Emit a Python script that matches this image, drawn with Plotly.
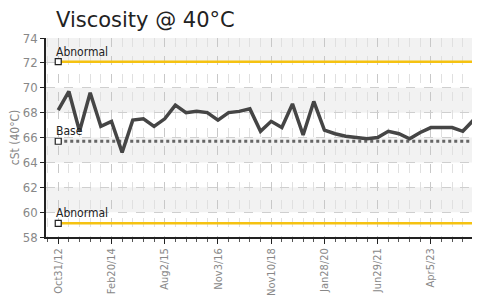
import plotly.graph_objects as go

# ---- data ----
tick_labels = ["Oct31/12", "Feb20/14", "Aug2/15", "Nov3/16", "Nov10/18",
               "Jan28/20", "Jun29/21", "Apr5/23"]
tick_index = [0, 5, 10, 15, 20, 25, 30, 35]
viscosity = [68.2, 69.7, 66.5, 69.6, 66.9, 67.3, 64.8, 67.4, 67.5, 66.9,
             67.5, 68.6, 68.0, 68.1, 68.0, 67.4, 68.0, 68.1, 68.3, 66.5,
             67.3, 66.8, 68.7, 66.2, 68.9, 66.6, 66.3, 66.1, 66.0, 65.9,
             66.0, 66.5, 66.3, 65.9, 66.4, 66.8, 66.8, 66.8, 66.5, 67.4]
abnormal_high = 72.1
base_value = 65.7
abnormal_low = 59.1
ref_names = ["Abnormal", "Base", "Abnormal"]
ref_values = [abnormal_high, base_value, abnormal_low]
ref_colors = ["#F5C211", "#666666", "#F5C211"]
ref_dash = ["solid", "dot", "solid"]

x = list(range(len(viscosity)))
x_end = len(viscosity) - 1

COND = "DejaVu Sans Condensed, Liberation Sans Narrow, sans-serif"
W, H = 472, 288  # page body has an 8px default margin

fig = go.Figure()

# alternating background bands
for lo in [72, 68, 64, 60]:
    fig.add_shape(type="rect", xref="paper", yref="y", x0=0, x1=1, y0=lo, y1=lo + 2,
                  fillcolor="#f2f2f2", line_width=0, layer="below")

for name, val, col, dash in zip(ref_names, ref_values, ref_colors, ref_dash):
    fig.add_trace(go.Scatter(x=[0, x_end], y=[val, val], mode="lines",
                             line=dict(color=col, width=3 if dash == "dot" else 2.5, dash=dash),
                             hoverinfo="skip", showlegend=False))
    fig.add_trace(go.Scatter(x=[0], y=[val], mode="markers",
                             marker=dict(symbol="square", size=6, color="white",
                                         line=dict(color="#222", width=1.2)),
                             hoverinfo="skip", showlegend=False))
    fig.add_annotation(x=0, y=val, text=name, showarrow=False, xanchor="left",
                       yanchor="bottom", xshift=-4, yshift=1,
                       font=dict(family=COND, size=12, color="#222"))

fig.add_trace(go.Scatter(x=x, y=viscosity, mode="lines",
                         line=dict(color="#454545", width=3.5),
                         showlegend=False))

fig.update_layout(
    width=W, height=H,
    margin=dict(l=38, r=6, t=30, b=59),
    paper_bgcolor="white", plot_bgcolor="white",
    title=dict(text="Viscosity @ 40°C", x=48 / W, xanchor="left",
               y=1 - 12 / H, yanchor="middle", pad=dict(l=0, r=0, t=0, b=0),
               font=dict(family="DejaVu Sans, sans-serif", size=21, color="#222")),
)

fig.update_xaxes(
    automargin=False,
    range=[-1.15, x_end + 0.05],
    tickmode="array", tickvals=tick_index, ticktext=tick_labels,
    tickangle=-90, ticks="outside", ticklen=5, tickcolor="#222",
    tickfont=dict(family=COND, size=11, color="#888"),
    showline=True, linecolor="#222", linewidth=1.5,
    showgrid=True, gridcolor="#c8c8c8", griddash="dash", gridwidth=1,
    minor=dict(dtick=1, tick0=0, ticks="outside", ticklen=3, tickcolor="#555",
               showgrid=True, gridcolor="#e0e0e0", griddash="dash"),
    zeroline=False,
)
fig.update_yaxes(
    automargin=False,
    range=[58, 74], dtick=2,
    ticks="outside", ticklen=4, tickcolor="#222",
    tickfont=dict(family=COND, size=13, color="#888"),
    showline=True, linecolor="#222", linewidth=1.5,
    showgrid=True, gridcolor="#cfcfcf", griddash="dash",
    zeroline=False,
    title=dict(text="cSt (40°C)", standoff=4,
               font=dict(family=COND, size=12, color="#888")),
)

fig.write_html("out.html")
